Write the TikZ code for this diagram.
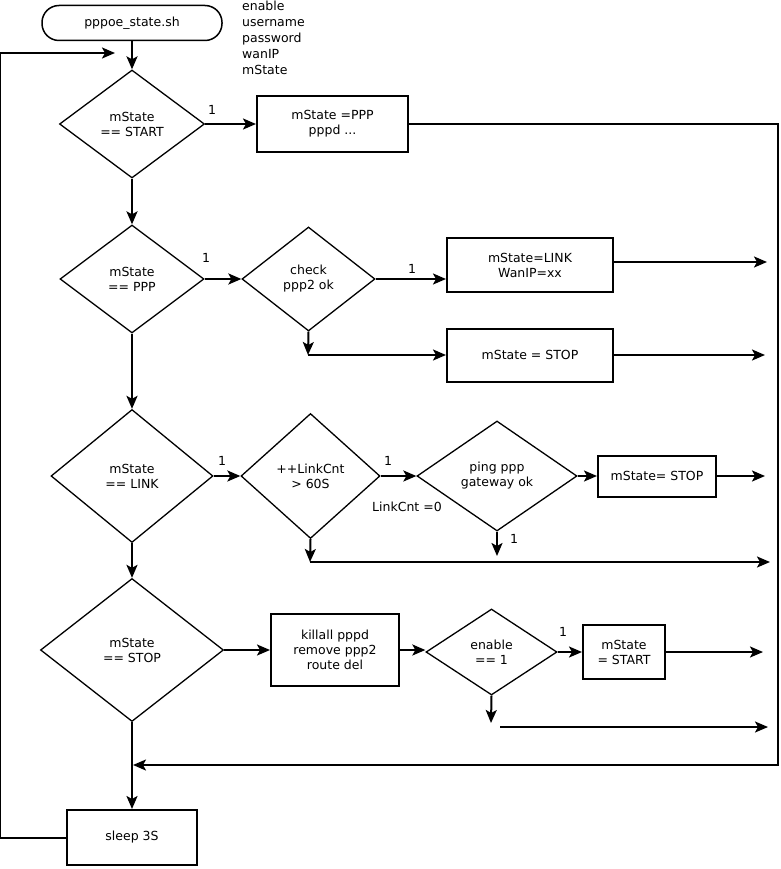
\documentclass[tikz,border=0pt]{standalone}
\usepackage{fontspec}
\setmainfont{DejaVu Sans}
\usetikzlibrary{shapes.geometric,arrows.meta}
\tikzset{
  txt/.style={font=\fontsize{12.5}{15}\selectfont, align=center},
  dia/.style={txt, shape=diamond, draw, line width=1.3pt, inner sep=0pt},
  box/.style={txt, shape=rectangle, draw, line width=2pt, inner sep=0pt},
  term/.style={txt, shape=rectangle, draw, line width=1.5pt, rounded corners=17pt, inner sep=0pt},
  conn/.style={line width=2pt, -{Stealth[length=13pt,width=11pt,inset=3pt]}},
  lbl/.style={font=\fontsize{12.5}{15}\selectfont, inner sep=0pt}
}
\begin{document}
\begin{tikzpicture}[x=1pt,y=-1pt]
\fill[white] (0,0) rectangle (780,869);
\useasboundingbox (0,0) rectangle (780,869);

% nodes
\node[term, minimum width=180, minimum height=35] (start) at (132,23) {pppoe\_state.sh};
\node[lbl, anchor=north west, align=left, font=\fontsize{12.5}{16}\selectfont] (vars) at (242,1) {enable\\username\\password\\wanIP\\mState};

\node[dia, minimum width=145, minimum height=108] (d1) at (132,124) {mState\\== START};
\node[box, minimum width=151, minimum height=56] (b1) at (332.5,124) {mState =PPP\\pppd ...};

\node[dia, minimum width=144, minimum height=108] (d2) at (132,279) {mState\\== PPP};
\node[dia, minimum width=133, minimum height=104] (d3) at (308.5,279) {check\\ppp2 ok};
\node[box, minimum width=166, minimum height=54] (link) at (530,265) {mState=LINK\\WanIP=xx};
\node[box, minimum width=166, minimum height=53] (stop1) at (530,355) {mState = STOP};

\node[dia, minimum width=162, minimum height=133] (d4) at (132,476) {mState\\== LINK};
\node[dia, minimum width=139, minimum height=125] (d5) at (310.5,476) {++LinkCnt\\> 60S};
\node[dia, minimum width=160, minimum height=110] (d6) at (497,476) {ping ppp\\gateway ok};
\node[box, minimum width=118, minimum height=41] (stop2) at (657,476) {mState= STOP};

\node[dia, minimum width=183, minimum height=143] (d7) at (132,650) {mState\\== STOP};
\node[box, minimum width=128, minimum height=72] (kill) at (335,650) {killall pppd\\remove ppp2\\route del};
\node[dia, minimum width=131, minimum height=86] (d8) at (491.5,652) {enable\\== 1};
\node[box, minimum width=82, minimum height=54] (start2) at (624,652) {mState\\= START};

\node[box, minimum width=130, minimum height=55] (sleep) at (132,837.5) {sleep 3S};

% labels
\node[lbl] (l1) at (212,110) {1};
\node[lbl] (l2) at (206,258) {1};
\node[lbl] (l3) at (412,269) {1};
\node[lbl] (l4) at (222,461) {1};
\node[lbl] (l5) at (388,461) {1};
\node[lbl] (l6) at (514,539) {1};
\node[lbl] (l7) at (563,632) {1};
\node[lbl] (lc) at (407,507) {LinkCnt =0};

% coordinates
\coordinate (loopend) at (115,53);
\coordinate (join) at (133,765);
\coordinate (linkout) at (767,262);
\coordinate (c3) at (308,355);
\coordinate (stop1out) at (765,355);
\coordinate (stop2out) at (765,476);
\coordinate (d6out) at (497,556);
\coordinate (c5) at (310,562);
\coordinate (c5out) at (770,562);
\coordinate (start2out) at (763,652);
\coordinate (d8out) at (491,723);
\coordinate (r8a) at (500,727);
\coordinate (r8b) at (768,727);

% connectors
\draw[conn] (start.south) -- (d1.north);
\draw[conn] (sleep.west) -- ++(-66,0) |- (loopend);

\draw[conn] (d1.east) -- (b1.west);
\draw[conn] (b1.east) -- (778,124) |- (join);
\draw[conn] (d1.south) -- (d2.north);

\draw[conn] (d2.east) -- (d3.west);
\draw[conn] (d3.east) -- (d3.east -| link.west);
\draw[conn] (link.east |- linkout) -- (linkout);
\draw[conn] (d3.south) -- (c3);
\draw[conn] (c3) -- (stop1.west);
\draw[conn] (stop1.east) -- (stop1out);
\draw[conn] (d2.south) -- (d4.north);

\draw[conn] (d4.east) -- (d5.west);
\draw[conn] (d5.east) -- (d6.west);
\draw[conn] (d6.east) -- (stop2.west);
\draw[conn] (stop2.east) -- (stop2out);
\draw[conn] (d6.south) -- (d6out);
\draw[conn] (d5.south) -- (c5);
\draw[conn] (c5) -- (c5out);
\draw[conn] (d4.south) -- (d7.north);

\draw[conn] (d7.east) -- (kill.west);
\draw[conn] (kill.east) -- (kill.east -| d8.west);
\draw[conn] (d8.east) -- (start2.west);
\draw[conn] (start2.east) -- (start2out);
\draw[conn] (d8.south) -- (d8out);
\draw[conn] (r8a) -- (r8b);
\draw[conn] (d7.south) -- (sleep.north);
\end{tikzpicture}
\end{document}
